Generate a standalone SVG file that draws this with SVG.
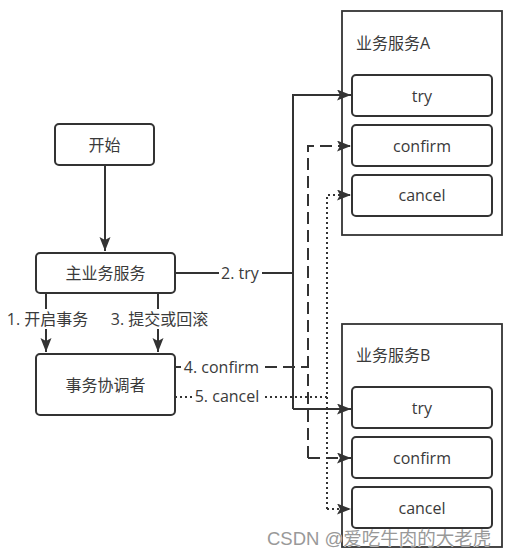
<svg xmlns="http://www.w3.org/2000/svg" width="511" height="558" viewBox="0 0 511 558">
<defs>
<marker id="arr" markerUnits="userSpaceOnUse" markerWidth="16" markerHeight="12" refX="14" refY="5.5" orient="auto">
<path d="M0,0 L14,5.5 L0,11 L3,5.5 Z" fill="#333"/>
</marker>
<style>
.box{fill:#fff;stroke:#333;stroke-width:2}
.outer{fill:#fff;stroke:#333;stroke-width:1.8}
.t{font-family:"Open Sans","Noto Sans CJK SC",sans-serif;font-size:16px;fill:#3a3a3a;text-anchor:middle;dominant-baseline:central}
.lbl{font-family:"Open Sans","Noto Sans CJK SC",sans-serif;font-size:16px;fill:#3a3a3a;text-anchor:middle;dominant-baseline:central}
.c{fill:none;stroke:#333;stroke-width:2}
.dash{stroke-dasharray:12 6}
.dot{stroke-dasharray:2 3}
.bg{fill:#fff}
</style>
</defs>
<rect width="511" height="558" fill="#fff"/>

<g id="serviceA">
<rect class="outer" x="342" y="11" width="160" height="224"/>
<text class="t" x="356" y="43" style="text-anchor:start">业务服务A</text>
</g>
<g id="serviceB">
<rect class="outer" x="342" y="324" width="160" height="223"/>
<text class="t" x="356" y="355" style="text-anchor:start">业务服务B</text>
</g>

<g id="connectors">
<path class="c" d="M105,165 V251" marker-end="url(#arr)"/>
<path class="c" d="M46,293 V352" marker-end="url(#arr)"/>
<path class="c" d="M158,293 V352" marker-end="url(#arr)"/>
<path class="c" d="M175,273 H293"/>
<path class="c" d="M293,409 V95 H351" marker-end="url(#arr)"/>
<path class="c" d="M293,409 H351" marker-end="url(#arr)"/>
<path class="c dash" d="M175,367 H308"/>
<path class="c dash" d="M308,458 V146 H351" marker-end="url(#arr)"/>
<path class="c dash" d="M308,458 H351" marker-end="url(#arr)"/>
<path class="c dot" d="M175,397 H327"/>
<path class="c dot" d="M327,509 V195 H351" marker-end="url(#arr)"/>
<path class="c dot" d="M327,509 H351" marker-end="url(#arr)"/>
<rect class="bg" x="4" y="309" width="88" height="20"/>
<text class="lbl" x="47.5" y="319">1. 开启事务</text>
<rect class="bg" x="108" y="309" width="103" height="20"/>
<text class="lbl" x="159.5" y="319">3. 提交或回滚</text>
<rect class="bg" x="219" y="263" width="43" height="20"/>
<text class="lbl" x="240" y="273">2. try</text>
<rect class="bg" x="181" y="357" width="81" height="20"/>
<text class="lbl" x="221.5" y="367">4. confirm</text>
<rect class="bg" x="192" y="387" width="71" height="20"/>
<text class="lbl" x="227" y="396">5. cancel</text>
</g>

<g id="start">
<rect class="box" x="55" y="124" width="99" height="41" rx="4"/>
<text class="t" x="104.5" y="145">开始</text>
</g>
<g id="main">
<rect class="box" x="36" y="253" width="139" height="40" rx="4"/>
<text class="t" x="105.5" y="273">主业务服务</text>
</g>
<g id="coordinator">
<rect class="box" x="36" y="354" width="139" height="61" rx="4"/>
<text class="t" x="105.5" y="385">事务协调者</text>
</g>

<g id="a-try">
<rect class="box" x="352" y="75" width="140" height="41" rx="4"/>
<text class="t" x="422" y="96">try</text>
</g>
<g id="a-confirm">
<rect class="box" x="352" y="125" width="140" height="41" rx="4"/>
<text class="t" x="422" y="146">confirm</text>
</g>
<g id="a-cancel">
<rect class="box" x="352" y="175" width="140" height="41" rx="4"/>
<text class="t" x="422" y="195">cancel</text>
</g>
<g id="b-try">
<rect class="box" x="352" y="387" width="140" height="41" rx="4"/>
<text class="t" x="422" y="408">try</text>
</g>
<g id="b-confirm">
<rect class="box" x="352" y="437" width="140" height="41" rx="4"/>
<text class="t" x="422" y="458">confirm</text>
</g>
<g id="b-cancel">
<rect class="box" x="352" y="487" width="140" height="41" rx="4"/>
<text class="t" x="422" y="508">cancel</text>
</g>

<text x="267" y="545" style="font-family:'Liberation Sans','Noto Sans CJK SC',sans-serif;font-size:18.5px;fill:#999;stroke:#fff;stroke-width:0.6;paint-order:stroke">CSDN @爱吃牛肉的大老虎</text>
</svg>
